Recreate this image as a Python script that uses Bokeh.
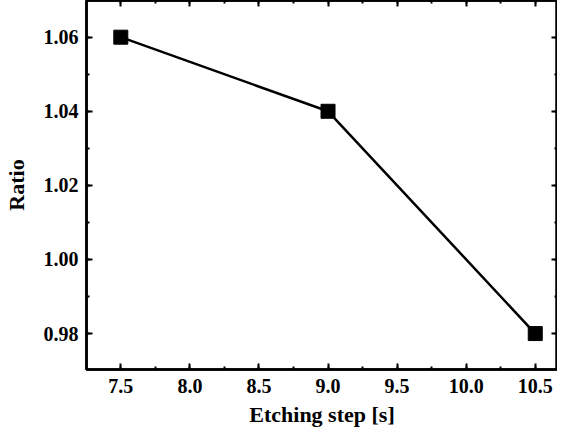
from bokeh.plotting import figure
from bokeh.models import LinearAxis, SingleIntervalTicker, NumeralTickFormatter, Range1d, CustomJSTickFormatter
from bokeh.embed import file_html
from bokeh.resources import INLINE

etching_step = [7.5, 9.0, 10.5]
ratio = [1.06, 1.04, 0.98]
x_label = "Etching step [s]"
y_label = "Ratio"

FONT = "Liberation Serif"

p = figure(width=557, height=429, output_backend="svg", toolbar_location=None,
           x_range=Range1d(7.2517, 10.661), y_range=Range1d(0.9703, 1.0699),
           min_border_left=0, min_border_right=0, min_border_top=0, min_border_bottom=0,
           x_axis_location=None, y_axis_location=None)
p.xgrid.visible = False
p.ygrid.visible = False
p.outline_line_color = "black"
p.outline_line_width = 2.5
p.background_fill_color = "white"
p.border_fill_color = "white"

def style(ax, labels=True):
    ax.axis_line_width = 2.5
    ax.axis_line_color = "black"
    ax.major_tick_in = 6
    ax.major_tick_out = 0
    ax.minor_tick_in = 3
    ax.minor_tick_out = 0
    ax.major_tick_line_width = 2
    ax.minor_tick_line_width = 2
    if labels:
        ax.major_label_text_font = FONT
        ax.major_label_text_font_style = "bold"
        ax.major_label_text_font_size = "20px"
        ax.major_label_text_color = "black"
        ax.major_label_standoff = 9
        ax.axis_label_text_font = FONT
        ax.axis_label_text_font_style = "bold"
        ax.axis_label_text_font_size = "22px"
        ax.axis_label_text_color = "black"
    else:
        ax.formatter = CustomJSTickFormatter(code="return '';")
        ax.major_label_standoff = 0
        ax.axis_label = None

xt = lambda: SingleIntervalTicker(interval=0.5, num_minor_ticks=2)
yt = lambda: SingleIntervalTicker(interval=0.02, num_minor_ticks=2)

xb = LinearAxis(ticker=xt(), formatter=NumeralTickFormatter(format="0.0"), axis_label=x_label)
style(xb)
xb.axis_label_standoff = 6
xb.axis_label_text_baseline = "middle"
yl = LinearAxis(ticker=yt(), formatter=NumeralTickFormatter(format="0.00"), axis_label=y_label)
style(yl)
yl.major_label_standoff = 8
yl.axis_label_standoff = 12
xa = LinearAxis(ticker=xt())
style(xa, labels=False)
yr = LinearAxis(ticker=yt())
style(yr, labels=False)

p.add_layout(xb, "below")
p.add_layout(yl, "left")
p.add_layout(xa, "above")
p.add_layout(yr, "right")

p.line(etching_step, ratio, line_color="black", line_width=2.5)
p.scatter(etching_step, ratio, marker="square", size=14, fill_color="black", line_color="black")

open("out.html", "w").write(file_html(p, INLINE))
